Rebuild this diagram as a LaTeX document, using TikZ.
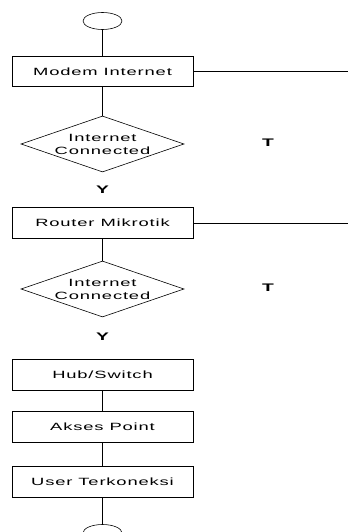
\documentclass[tikz,border=0pt]{standalone}
\usepackage{fontspec}
\setmainfont{Liberation Sans}[FakeStretch=1.75,LetterSpace=8]
\usetikzlibrary{shapes.geometric}

\begin{document}
\begin{tikzpicture}[x=1pt,y=1pt]
        \tikzset{
            proc/.style={draw,rectangle,line width=0.7pt,minimum width=181pt,minimum height=31pt,font=\fontsize{10.5}{13}\selectfont},
            decision/.style={draw,diamond,aspect=2.9,inner sep=0pt,minimum width=163pt,minimum height=56pt,line width=0.6pt,align=center,font=\fontsize{10.5}{13}\selectfont},
            terminal/.style={draw,ellipse,minimum width=39pt,minimum height=17pt,inner sep=0pt,line width=0.6pt},
            answer/.style={font=\bfseries\fontsize{11}{13}\selectfont},
            link/.style={line width=1pt},
            exit/.style={line width=0.6pt}
        }
        \useasboundingbox (0,0) rectangle (348,-532);
        \coordinate (edge) at (348,0);
        \node[terminal] (start) at (102.5,-21) {};
        \node[proc,node distance=50.5pt,minimum height=30pt] (modem) [below of=start] {Modem Internet};
        \node[decision,node distance=72.5pt] (cek1) [below of=modem] {Internet\\Connected};
        \node[answer] (t1) at (268,-143) {T};
        \node[answer,node distance=46pt] (y1) [below of=cek1] {Y};
        \node[proc,node distance=33pt] (router) [below of=y1] {Router Mikrotik};
        \node[decision,node distance=66pt] (cek2) [below of=router] {Internet\\Connected};
        \node[answer] (t2) at (268,-288) {T};
        \node[answer,node distance=48pt] (y2) [below of=cek2] {Y};
        \node[proc,node distance=37.5pt] (hub) [below of=y2] {Hub/Switch};
        \node[proc,node distance=52pt] (ap) [below of=hub] {Akses Point};
        \node[proc,node distance=55pt] (user) [below of=ap] {User Terkoneksi};
        \node[terminal,node distance=51.5pt] (stop) [below of=user] {};
        \draw[link] (start) -- (modem);
        \draw[link] (modem) -- (cek1);
        \draw[link] (router) -- (cek2);
        \draw[link] (hub) -- (ap);
        \draw[link] (ap) -- (user);
        \draw[link] (user) -- (stop);
        \draw[exit] (modem.east) -- (modem.east -| edge);
        \draw[exit] (router.east) -- (router.east -| edge);
    \end{tikzpicture}
\end{document}
